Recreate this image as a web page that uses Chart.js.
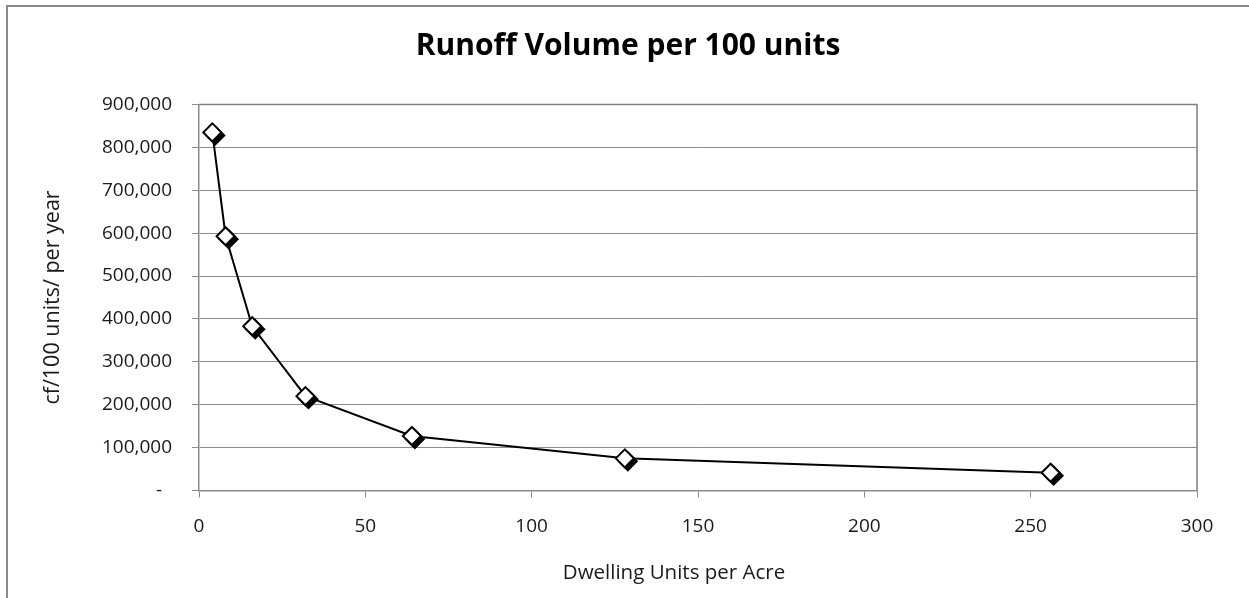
<!DOCTYPE html>
<html>
<head>
<meta charset="utf-8">
<title>Runoff Volume per 100 units</title>
<script src="https://cdn.jsdelivr.net/npm/chart.js@4/dist/chart.umd.min.js"></script>
<style>
  html, body { margin: 0; padding: 0; background: #ffffff; }
  #wrap { width: 1249px; height: 598px; position: relative; }
</style>
</head>
<body>
<div id="wrap"><canvas id="c" width="1249" height="598"></canvas></div>
<script>
// Dwelling density (units per acre) and annual runoff per 100 units (cubic feet)
const densities = [4, 8, 16, 32, 64, 128, 256];
const runoff = [835000, 593000, 383000, 220000, 127000, 75000, 41500];

const chartTitle = 'Runoff Volume per 100 units';
const xTitle = 'Dwelling Units per Acre';
const yTitle = 'cf/100 units/ per year';

const xTicks = { min: 0, max: 300, step: 50 };
const yTicks = { min: 0, max: 900000, step: 100000 };

const FONT = '"Open Sans", Lato, sans-serif';
const GRID = '#8c8c8c';
const TEXT = '#1a1a1a';

const points = densities.map((d, i) => ({ x: d, y: runoff[i] }));

// Outer chart frame, plot-area outline, and the horizontal axis title
const framePlugin = {
  id: 'frame',
  beforeDraw(chart) {
    const ctx = chart.ctx;
    ctx.save();
    ctx.fillStyle = '#ffffff';
    ctx.fillRect(0, 0, chart.width, chart.height);
    ctx.strokeStyle = '#888888';
    ctx.lineWidth = 2;
    ctx.strokeRect(7, 6, chart.width + 40, chart.height + 40);
    ctx.restore();
  },
  afterDraw(chart) {
    const ctx = chart.ctx;
    const a = chart.chartArea;
    ctx.save();
    ctx.strokeStyle = '#7f7f7f';
    ctx.lineWidth = 1.5;
    ctx.beginPath();
    ctx.moveTo(a.left, a.top);
    ctx.lineTo(a.right, a.top);
    ctx.lineTo(a.right, a.bottom);
    ctx.stroke();
    ctx.fillStyle = TEXT;
    ctx.font = '20.5px ' + FONT;
    ctx.textAlign = 'center';
    ctx.textBaseline = 'middle';
    ctx.fillText(xTitle, (a.left + a.right) / 2 - 24, 573);
    ctx.restore();
  }
};

// The black marker copy sits a few pixels down-right of the white one, as a drop shadow
const SHADOW_INDEX = 2;
const markerShadow = {
  id: 'markerShadow',
  beforeDatasetDraw(chart, args) {
    if (args.index !== SHADOW_INDEX) return;
    chart.ctx.save();
    chart.ctx.translate(3, 3);
  },
  afterDatasetDraw(chart, args) {
    if (args.index !== SHADOW_INDEX) return;
    chart.ctx.restore();
  }
};

const diamond = {
  showLine: false,
  pointStyle: 'rectRot',
  pointRadius: 9,
  pointBorderWidth: 2
};

new Chart(document.getElementById('c'), {
  type: 'scatter',
  data: {
    datasets: [
      Object.assign({
        label: 'markers',
        data: points,
        pointBackgroundColor: '#ffffff',
        pointBorderColor: '#000000',
        order: 0
      }, diamond),
      {
        label: 'curve',
        data: points,
        showLine: true,
        borderColor: '#000000',
        borderWidth: 2,
        pointRadius: 0,
        tension: 0,
        order: 1
      },
      Object.assign({
        label: 'marker shadow',
        data: points,
        pointBackgroundColor: '#000000',
        pointBorderColor: '#000000',
        order: 2
      }, diamond)
    ]
  },
  options: {
    responsive: false,
    animation: false,
    events: [],
    layout: { padding: { left: 7, right: 0, top: 0, bottom: 0 } },
    plugins: {
      legend: { display: false },
      tooltip: { enabled: false },
      title: {
        display: true,
        text: chartTitle,
        color: '#000000',
        font: { family: FONT, size: 30, weight: 'bold' },
        padding: { top: 28, bottom: 40.5 }
      }
    },
    scales: {
      x: {
        type: 'linear',
        position: 'bottom',
        min: xTicks.min,
        max: xTicks.max,
        afterFit(s) { s.height = 107.5; },
        ticks: {
          stepSize: xTicks.step,
          color: TEXT,
          font: { family: FONT, size: 19 },
          padding: 18,
          maxRotation: 0
        },
        grid: {
          drawOnChartArea: false,
          drawTicks: true,
          tickLength: 7,
          color: GRID
        },
        border: { display: true, color: GRID, width: 1.5 }
      },
      y: {
        type: 'linear',
        position: 'left',
        min: yTicks.min,
        max: yTicks.max,
        afterFit(s) { s.width = 192; },
        ticks: {
          stepSize: yTicks.step,
          color: TEXT,
          font: { family: FONT, size: 19 },
          padding: 20,
          callback: v => v === 0 ? '-  ' : v.toLocaleString('en-US')
        },
        grid: {
          drawOnChartArea: true,
          drawTicks: true,
          tickLength: 7,
          color: GRID,
          lineWidth: 1
        },
        border: { display: true, color: GRID, width: 1.5 },
        title: {
          display: true,
          text: yTitle,
          color: TEXT,
          font: { family: FONT, size: 21.5 },
          padding: { top: 33, bottom: 0 }
        }
      },
      y2: {
        type: 'linear',
        position: 'right',
        display: true,
        afterFit(s) { s.width = 52; },
        ticks: { display: false },
        grid: { display: false, drawTicks: false },
        border: { display: false }
      }
    }
  },
  plugins: [framePlugin, markerShadow]
});
</script>
</body>
</html>
